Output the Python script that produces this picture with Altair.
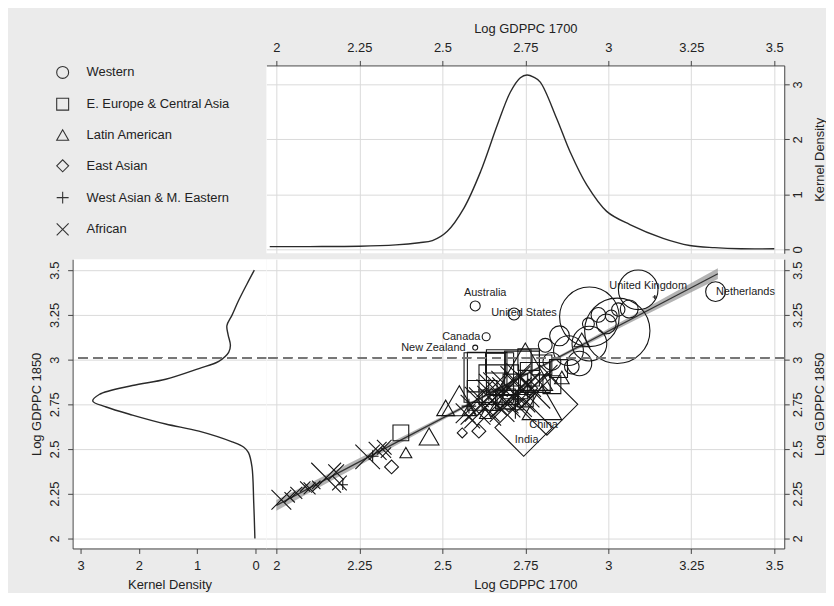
import altair as alt
import pandas as pd

FONT = "Liberation Sans"
BG = "#ebebeb"
INK = "#222222"
AXC = "#444444"
GRID = "#dadada"

REGIONS = ["Western", "E. Europe & Central Asia", "Latin American",
           "East Asian", "West Asian & M. Eastern", "African"]
SHAPES = ["circle", "square", "triangle-up", "diamond",
          "M-1,0H1M0,-1V1", "M-1,-1L1,1M-1,1L1,-1"]

TICKS_GDP = [2, 2.25, 2.5, 2.75, 3, 3.25, 3.5]
TICKS_DEN = [0, 1, 2, 3]

# ---- scatter data (log GDPPC 1700, log GDPPC 1850, weight) ----
west_x = [2.599, 2.716, 2.632, 2.599, 3.09, 3.323, 2.943, 3.027, 3.063, 3.009,
          2.994, 2.94, 2.943, 2.853, 2.913, 2.83, 2.81, 2.88, 2.97, 3.03, 2.89]
west_y = [3.30, 3.255, 3.128, 3.067, 3.39, 3.38, 3.239, 3.161, 3.283, 3.244,
          3.20, 3.20, 3.089, 3.133, 2.978, 2.99, 3.08, 3.05, 3.25, 3.28, 2.96]
west_w = [2.8, 4, 1.8, 0.7, 44, 11, 100, 120, 9, 4,
          11, 4, 34, 11, 17, 9, 5.4, 25, 6, 5, 6]

eeca_x = [2.375, 2.64, 2.70, 2.74, 2.67, 2.78, 2.62, 2.72, 2.80, 2.66,
          2.85, 2.76, 2.635, 2.83, 2.69, 2.75]
eeca_y = [2.59, 2.90, 2.93, 2.95, 2.86, 2.90, 2.80, 2.85, 2.97, 2.98,
          2.95, 3.00, 2.93, 2.86, 2.78, 2.78]
eeca_w = [7, 69, 56, 34, 44, 25, 25, 17, 11, 11,
          9, 13, 44, 9, 11, 7]

lat_x = [2.39, 2.46, 2.51, 2.551, 2.75, 2.92, 2.80, 2.70, 2.63, 2.66, 2.86, 2.58]
lat_y = [2.48, 2.57, 2.73, 2.77, 2.96, 3.11, 2.76, 2.80, 2.70, 2.74, 2.90, 2.72]
lat_w = [4, 11, 9, 34, 84, 7, 44, 13, 4, 3, 6, 5]

east_x = [2.745, 2.815, 2.347, 2.56, 2.61, 2.76, 2.70]
east_y = [2.62, 2.75, 2.40, 2.59, 2.60, 2.84, 2.74]
east_w = [93, 107, 5.4, 2.8, 5.4, 9, 4]

wasia_x = [2.20, 2.29, 2.58, 2.62, 2.68, 2.72, 2.64, 3.14]
wasia_y = [2.30, 2.46, 2.74, 2.76, 2.80, 2.72, 2.83, 3.35]
wasia_w = [3, 4, 6, 11, 17, 9, 13, 0.5]

afr_x = [2.015, 2.04, 2.06, 2.087, 2.10, 2.12, 2.15, 2.18, 2.19, 2.275, 2.305,
         2.325, 2.33, 2.57, 2.60, 2.62, 2.65, 2.67, 2.70, 2.72, 2.74, 2.64,
         2.69, 2.76, 2.61, 2.79, 2.78, 2.66, 2.73, 2.59, 2.71, 2.68, 2.75,
         2.63, 2.82]
afr_y = [2.217, 2.23, 2.255, 2.29, 2.28, 2.30, 2.34, 2.37, 2.31, 2.456, 2.49,
         2.51, 2.48, 2.70, 2.72, 2.75, 2.77, 2.81, 2.84, 2.88, 2.83, 2.70,
         2.76, 2.86, 2.79, 2.88, 2.81, 2.86, 2.91, 2.66, 2.79, 2.72, 2.76,
         2.84, 2.92]
afr_w = [11, 3, 4, 3, 4, 2, 25, 7, 6, 17, 9,
         6, 3, 11, 25, 34, 25, 44, 34, 25, 34, 17,
         25, 17, 11, 11, 25, 17, 17, 7, 44, 17, 11,
         9, 9]

groups = [(REGIONS[0], west_x, west_y, west_w),
          (REGIONS[1], eeca_x, eeca_y, eeca_w),
          (REGIONS[2], lat_x, lat_y, lat_w),
          (REGIONS[3], east_x, east_y, east_w),
          (REGIONS[4], wasia_x, wasia_y, wasia_w),
          (REGIONS[5], afr_x, afr_y, afr_w)]
rows = []
for reg, xs, ys, ws in groups:
    for a, b, c in zip(xs, ys, ws):
        rows.append({"region": reg, "g1700": a, "g1850": b, "weight": c})
pts = pd.DataFrame(rows)

# ---- country labels (text anchor in data units) ----
lab_text = ["Australia", "United States", "Canada", "New Zealand",
            "United Kingdom", "Netherlands", "China", "India"]
lab_x = [2.629, 2.746, 2.557, 2.473, 3.120, 3.413, 2.805, 2.754]
lab_y = [3.372, 3.261, 3.128, 3.067, 3.411, 3.378, 2.633, 2.55]
labels = pd.DataFrame({"text": lab_text, "g1700": lab_x, "g1850": lab_y})

# ---- fitted line and confidence band ----
fit_x = [2.0, 3.33]
fit_y = [2.185, 3.48]
band_x = [2.0, 2.2, 2.4, 2.6, 2.75, 2.9, 3.1, 3.33]
band_lo = [2.155, 2.358, 2.560, 2.761, 2.908, 3.051, 3.238, 3.450]
band_hi = [2.215, 2.402, 2.588, 2.777, 2.922, 3.071, 3.274, 3.510]
fit = pd.DataFrame({"g1700": fit_x, "g1850": fit_y})
band = pd.DataFrame({"g1700": band_x, "lo": band_lo, "hi": band_hi})

# ---- kernel densities ----
top_x = [1.98, 2.10, 2.25, 2.36, 2.43, 2.47, 2.515, 2.565, 2.615, 2.665, 2.705,
         2.735, 2.755, 2.775, 2.795, 2.845, 2.885, 2.935, 2.995, 3.065, 3.165,
         3.245, 3.32, 3.40, 3.50]
top_d = [0.05, 0.05, 0.055, 0.08, 0.12, 0.16, 0.33, 0.75, 1.41, 2.25, 2.86,
         3.12, 3.17, 3.13, 3.04, 2.37, 1.77, 1.17, 0.69, 0.45, 0.20,
         0.07, 0.03, 0.01, 0.01]
left_y = [2.0, 2.2, 2.4, 2.48, 2.51, 2.54, 2.60, 2.64, 2.69, 2.735, 2.768, 2.805,
          2.855, 2.89, 2.95, 2.99, 3.04, 3.08, 3.14, 3.19, 3.25, 3.33, 3.42, 3.50]
left_d = [0.01, 0.03, 0.06, 0.12, 0.2, 0.40, 0.97, 1.54, 2.11, 2.56, 2.79, 2.68,
          2.11, 1.54, 0.97, 0.63, 0.46, 0.43, 0.47, 0.49, 0.40, 0.29, 0.15, 0.02]
top_df = pd.DataFrame({"g1700": top_x, "dens": top_d})
left_df = pd.DataFrame({"g1850": left_y, "dens": left_d})

CUT_1850 = 3.01

# ---- scales ----
sx = alt.Scale(domain=[1.970, 3.530], nice=False, zero=False)
sy = alt.Scale(domain=[1.944, 3.561], nice=False, zero=False)
s_top_d = alt.Scale(domain=[-0.072, 3.343], nice=False, zero=False)
s_left_d = alt.Scale(domain=[-0.1875, 3.136], nice=False, zero=False, reverse=True)

W_MAIN, H_MAIN = 521, 291
W_LEFT, H_TOP = 195, 189

NUM = "toString(datum.value)"

ax_x_bottom = alt.Axis(values=TICKS_GDP, labelExpr=NUM, title="Log GDPPC 1700",
                       grid=True, labelFlush=False, labelOverlap=False,
                       labelPadding=6, titlePadding=6)
ax_x_top = alt.Axis(orient="top", values=TICKS_GDP, labelExpr=NUM, title="Log GDPPC 1700",
                    grid=True, labelFlush=False, labelOverlap=False,
                    labelPadding=6, titlePadding=6)
ax_y_right = alt.Axis(orient="right", values=TICKS_GDP, labelExpr=NUM, title="Log GDPPC 1850",
                      grid=True, labelAngle=270, labelAlign="center", labelBaseline="top",
                      labelOverlap=False, labelPadding=2, titleAngle=270, titleBaseline="top",
                      titlePadding=9)
ax_d_right = alt.Axis(orient="right", values=TICKS_DEN, labelExpr=NUM, title="Kernel Density",
                      grid=True, labelAngle=270, labelAlign="center", labelBaseline="top",
                      labelOverlap=False, labelPadding=2, titleAngle=270, titleBaseline="top",
                      titlePadding=9)
ax_y_left = alt.Axis(orient="left", values=TICKS_GDP, labelExpr=NUM, title="Log GDPPC 1850",
                     grid=True, labelAngle=270, labelAlign="center", labelBaseline="bottom",
                     labelOverlap=False, labelPadding=6, titlePadding=5)
ax_d_bottom = alt.Axis(values=TICKS_DEN, labelExpr=NUM, title="Kernel Density", grid=False,
                       labelFlush=False, labelOverlap=False, labelPadding=6, titlePadding=6)

# ---- main scatter panel ----
band_layer = alt.Chart(band).mark_area(color="#9a9a9a", opacity=0.75).encode(
    x=alt.X("g1700:Q", scale=sx, axis=ax_x_bottom),
    y=alt.Y("lo:Q", scale=sy, axis=ax_y_right),
    y2="hi:Q",
)
fit_layer = alt.Chart(fit).mark_line(color="#333333", strokeWidth=1.3).encode(
    x=alt.X("g1700:Q", scale=sx),
    y=alt.Y("g1850:Q", scale=sy),
)
pt_layer = alt.Chart(pts).mark_point(filled=False, color="#151515", strokeWidth=1.1,
                                     opacity=1).encode(
    x=alt.X("g1700:Q", scale=sx),
    y=alt.Y("g1850:Q", scale=sy),
    shape=alt.Shape("region:N", scale=alt.Scale(domain=REGIONS, range=SHAPES),
                    legend=alt.Legend(title=None, orient="none", legendX=-17, legendY=0,
                                      padding=0, symbolSize=144, symbolStrokeWidth=1.1,
                                      symbolStrokeColor="#333333", labelFont=FONT,
                                      labelFontSize=13, labelColor=INK, labelOffset=17,
                                      rowPadding=14, labelLimit=300)),
    size=alt.Size("weight:Q", scale=alt.Scale(domain=[0, 100], range=[0, 3600]),
                  legend=None),
)
text_layer = alt.Chart(labels).mark_text(font=FONT, fontSize=11, color=INK).encode(
    x=alt.X("g1700:Q", scale=sx),
    y=alt.Y("g1850:Q", scale=sy),
    text="text:N",
)
cut_main = alt.Chart(labels).mark_rule(color="#777777", strokeWidth=1.5,
                                       strokeDash=[9, 6]).encode(
    y=alt.Y(datum=CUT_1850, scale=sy),
)
main = alt.layer(band_layer, fit_layer, pt_layer, text_layer, cut_main).properties(
    width=W_MAIN, height=H_MAIN)

# ---- top density panel ----
top = alt.Chart(top_df).mark_line(color="#2a2a2a", strokeWidth=1.4,
                                  interpolate="catmull-rom").encode(
    x=alt.X("g1700:Q", scale=sx, axis=ax_x_top),
    y=alt.Y("dens:Q", scale=s_top_d, axis=ax_d_right),
).properties(width=W_MAIN, height=H_TOP)

# ---- left density panel ----
left_line = alt.Chart(left_df).mark_line(color="#2a2a2a", strokeWidth=1.4,
                                         interpolate="catmull-rom").encode(
    x=alt.X("dens:Q", scale=s_left_d, axis=ax_d_bottom),
    y=alt.Y("g1850:Q", scale=sy, axis=ax_y_left),
    order=alt.Order("g1850:Q"),
)
cut_left = alt.Chart(left_df).mark_rule(color="#777777", strokeWidth=1.5,
                                        strokeDash=[9, 6]).encode(
    y=alt.Y(datum=CUT_1850, scale=sy),
)
left = alt.layer(left_line, cut_left).properties(width=W_LEFT, height=H_MAIN)

# ---- empty top-left cell (legend area) ----
blank = alt.Chart(pd.DataFrame({"v": [0]})).mark_point(opacity=0).encode(
    x=alt.X("v:Q", axis=None), y=alt.Y("v:Q", axis=None)
).properties(width=W_LEFT, height=H_TOP, view=alt.ViewBackground(fill=BG, strokeWidth=0))

chart = alt.concat(blank, top, left, main, columns=2,
                   spacing={"row": 6, "column": 0}, bounds="flush", align="each")

chart = chart.configure(
    background=BG, padding={"left": 23, "top": 13, "right": 0, "bottom": 0}, font=FONT
).configure_view(
    fill="white", strokeWidth=0
).configure_axis(
    labelFont=FONT, titleFont=FONT, labelFontSize=13, titleFontSize=13,
    titleFontWeight="normal", labelColor=INK, titleColor=INK,
    domainColor=AXC, tickColor=AXC, tickSize=5, gridColor=GRID, gridWidth=1,
)

chart.save("out.html", embed_options={"renderer": "svg", "actions": False})
